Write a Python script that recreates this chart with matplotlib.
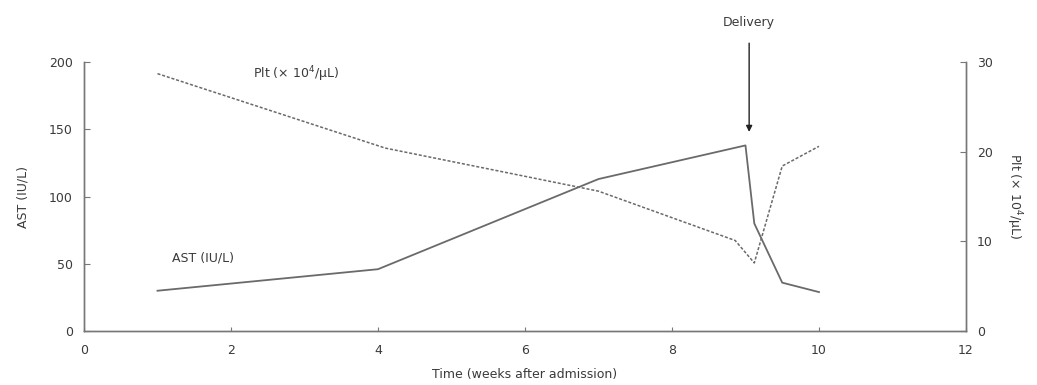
import matplotlib
matplotlib.use('Agg')
import matplotlib.pyplot as plt

# weeks after admission
ast_weeks = [1, 4, 7, 9, 9.12, 9.5, 10]
ast_values = [30, 46, 113, 138, 80, 36, 29]

plt_weeks = [1, 4.1, 7, 8.86, 9.12, 9.5, 10]
plt_values = [28.7, 20.4, 15.6, 10.1, 7.6, 18.4, 20.6]

x_ticks = [0, 2, 4, 6, 8, 10, 12]
ast_ticks = [0, 50, 100, 150, 200]
plt_ticks = [0, 10, 20, 30]
delivery_week = 9.05

line_col = '#6a6a6a'
text_col = '#3a3a3a'

plt.rcParams['font.family'] = ['DejaVu Sans']
fig = plt.figure(figsize=(10.37, 3.85), dpi=100)
ax = fig.add_axes([0.081, 0.140, 0.8505, 0.699])
ax2 = ax.twinx()

ax.plot(ast_weeks, ast_values, color=line_col, lw=1.3)
ax2.plot(plt_weeks, plt_values, color=line_col, lw=1.1, ls=(0, (2, 1.2)))

ax.set_xlim(0, 12)
ax.set_ylim(0, 200)
ax2.set_ylim(0, 30)
ax.set_xticks(x_ticks)
ax.set_yticks(ast_ticks)
ax2.set_yticks(plt_ticks)

for a in (ax, ax2):
    a.spines['top'].set_visible(False)
    for s in ('left', 'right', 'bottom'):
        a.spines[s].set_color('#777777')
        a.spines[s].set_linewidth(1.0)
    a.tick_params(direction='in', length=4, width=0.8, colors='#777777',
                  labelcolor=text_col, labelsize=9, pad=8)
ax.tick_params(axis='x', length=3, pad=9)

ax.set_xlabel('Time (weeks after admission)', fontsize=9, color=text_col, labelpad=8)
ax.set_ylabel('AST (IU/L)', fontsize=9, color=text_col, labelpad=14)
ax2.set_ylabel('Plt (× 10$^4$/μL)', fontsize=9, color=text_col, rotation=270, labelpad=22)

ax.text(2.3, 188, 'Plt (× 10$^4$/μL)', fontsize=9, color=text_col)
ax.text(1.2, 52, 'AST (IU/L)', fontsize=9, color=text_col)

ax.text(delivery_week, 229, 'Delivery', ha='center', va='center', fontsize=9,
        color=text_col, clip_on=False)
ax.annotate('', xy=(delivery_week, 148), xytext=(delivery_week, 214),
            annotation_clip=False,
            arrowprops=dict(arrowstyle='-|>', color='#222222', lw=1.0,
                            mutation_scale=9, shrinkA=0, shrinkB=0))

fig.savefig('out.png', dpi=100)
